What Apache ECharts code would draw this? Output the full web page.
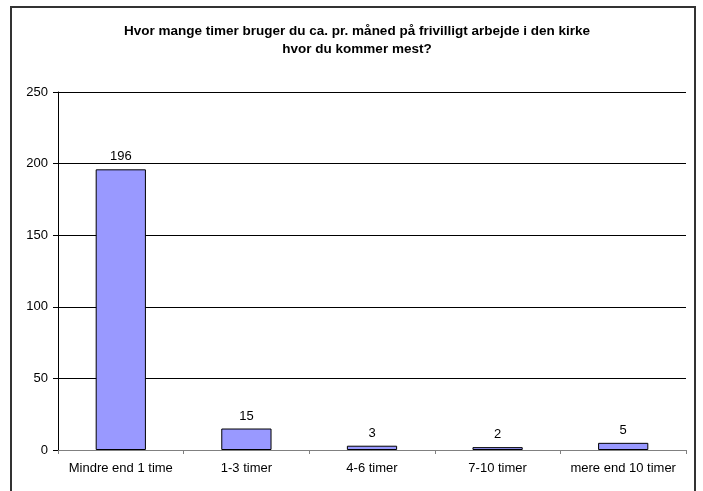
<!DOCTYPE html>
<html>
<head>
<meta charset="utf-8">
<script src="https://cdn.jsdelivr.net/npm/echarts@6/dist/echarts.min.js"></script>
<style>
  html, body { margin: 0; padding: 0; background: #fff; }
  #chart { width: 703px; height: 491px; }
</style>
</head>
<body>
<div id="chart"></div>
<script>
// kategorier og antal svar
const categories = ['Mindre end 1 time', '1-3 timer', '4-6 timer', '7-10 timer', 'mere end 10 timer']
const counts = [196, 15, 3, 2, 5]
const titleText = 'Hvor mange timer bruger du ca. pr. måned på frivilligt arbejde i den kirke\nhvor du kommer mest?'

const chart = echarts.init(document.getElementById('chart'), null, { renderer: 'canvas' })

const option = {
  backgroundColor: '#fff',
  animation: false,
  textStyle: { fontFamily: 'Liberation Sans, Arial, sans-serif' },
  title: {
    text: titleText,
    left: 352,
    top: 17,
    textAlign: 'center',
    textStyle: {
      fontSize: 13.5,
      fontWeight: 'bold',
      color: '#000',
      lineHeight: 18,
      fontFamily: 'Liberation Sans, Arial, sans-serif'
    }
  },
  // ramme om hele diagrammet
  graphic: [{
    type: 'rect',
    shape: { x: 11, y: 7, width: 684, height: 500 },
    style: { fill: 'none', stroke: '#333', lineWidth: 2 },
    silent: true
  }],
  grid: { left: 58, right: 17, top: 92, bottom: 41 },
  xAxis: {
    type: 'category',
    data: categories,
    axisLine: { lineStyle: { color: '#808080', width: 1 } },
    axisTick: { show: true, alignWithLabel: false, length: 4, lineStyle: { color: '#808080' } },
    axisLabel: { color: '#000', fontSize: 13, margin: 12, interval: 0 }
  },
  yAxis: {
    type: 'value',
    min: 0,
    max: 250,
    interval: 50,
    axisLine: { show: true, lineStyle: { color: '#000' } },
    axisTick: { show: true, length: 5, lineStyle: { color: '#000' } },
    axisLabel: { color: '#000', fontSize: 13, margin: 10 },
    splitLine: { lineStyle: { color: '#000', width: 1 } }
  },
  series: [{
    type: 'bar',
    data: counts,
    barWidth: '40%',
    itemStyle: { color: '#9999FF', borderColor: '#000', borderWidth: 1 },
    label: { show: true, position: 'top', color: '#000', fontSize: 13, distance: 6 }
  }]
}

chart.setOption(option)
</script>
</body>
</html>
